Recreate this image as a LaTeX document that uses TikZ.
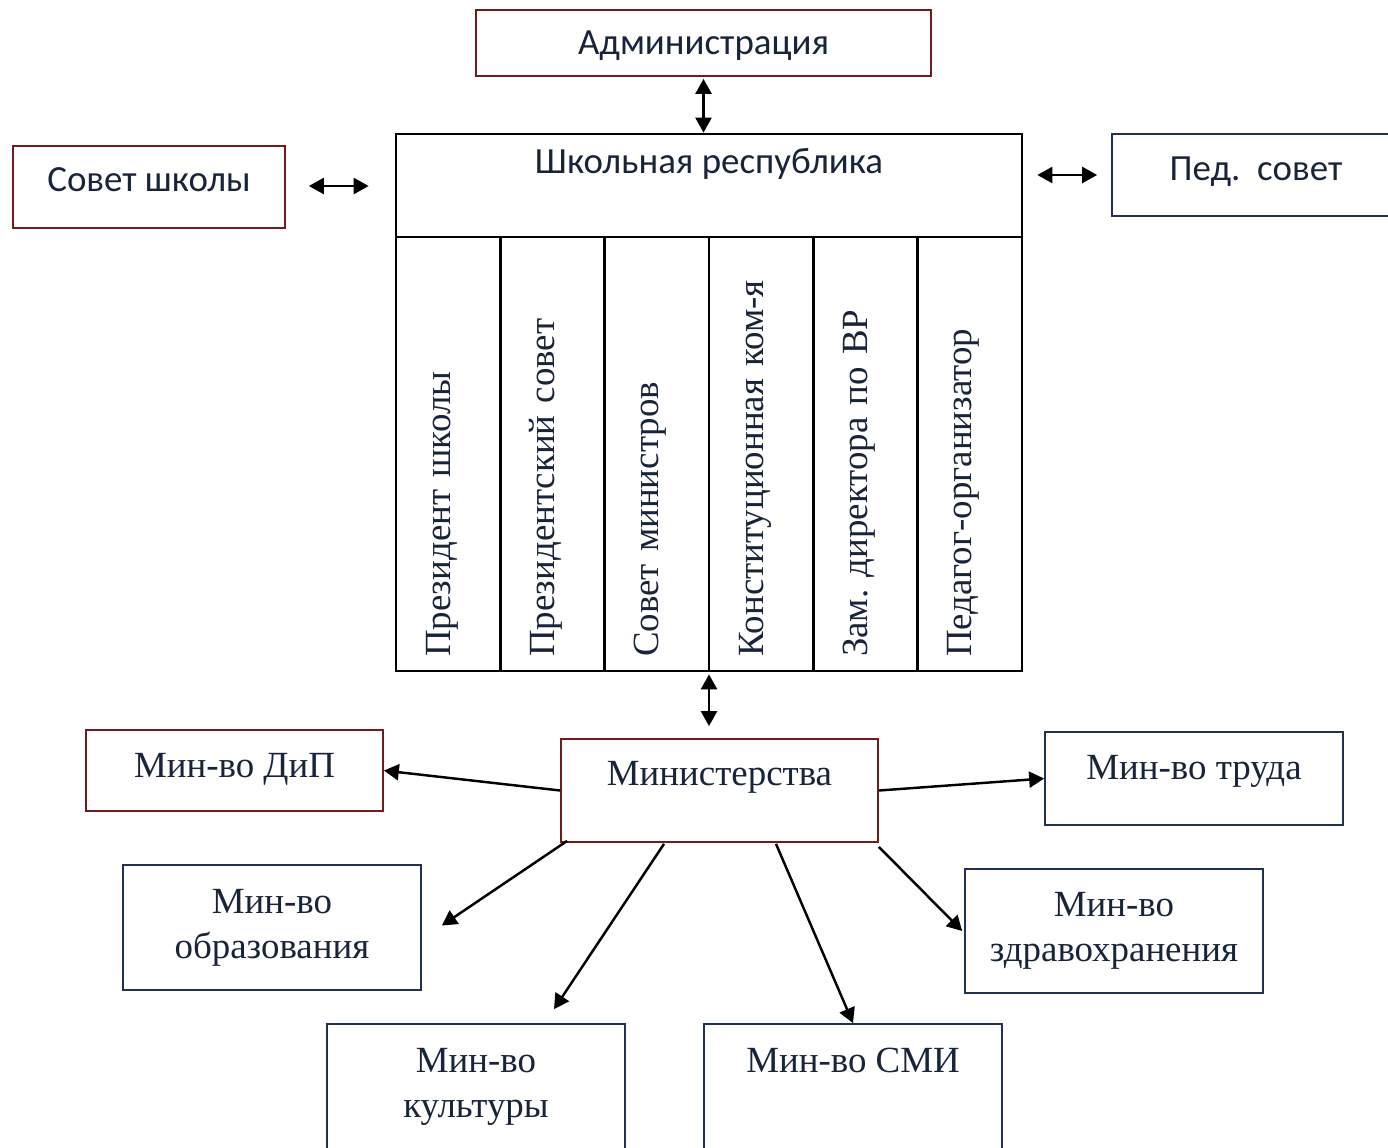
\documentclass[tikz,border=0pt]{standalone}
\usepackage{fontspec}
\setmainfont{Liberation Serif}
\newfontfamily\calfont{Carlito}
\usepackage{xcolor}
\usetikzlibrary{
arrows.meta,
calc,
positioning
}
\definecolor{boxred}{RGB}{112,28,28}
\definecolor{boxblue}{RGB}{31,50,79}
\definecolor{inkblue}{RGB}{24,36,58}
\tikzset{
  unit/.style={
    draw,
    rectangle,
    line width=1pt,
    inner sep=0pt,
    align=center,
    text=inkblue,
    font=\fontsize{21}{25.5}\selectfont
  },
  % Boxes set in the sans face:
  sansunit/.style={unit, font=\calfont\fontsize{21}{25}\selectfont}
}

\begin{document}
\frenchspacing
\begin{tikzpicture}[
    x=0.02cm, y=-0.02cm,
    redunit/.style={unit, draw=boxred},
    blueunit/.style={unit, draw=boxblue},
    frame/.style={
      sansunit,
      line width=1.6pt,
      draw=black
    },
    column/.style={
      unit,
      draw=black,
      line width=1.6pt,
      rotate=90,
      minimum width=8.68cm,
      minimum height=2.0867cm,
      text width=8.12cm,
      text height=0.52cm,
      text depth=0.435cm,
      inner xsep=0.28cm,
      align=left
    },
    relation/.style={
      line width=1.4pt,
      -{Triangle[length=0.3cm,width=0.32cm]}
    },
    twoway/.style={
      relation,
      {Triangle[length=0.3cm,width=0.32cm]}-{Triangle[length=0.3cm,width=0.32cm]}
    }
  ]
  \useasboundingbox (0,0) rectangle (1388,1147);
  \clip (0,0) rectangle (1388,1147);
  \node[sansunit,draw=boxred,minimum width=9.1cm,text height=0.88cm,text depth=0.44cm] (adm) at (703.5,43) {Администрация};
  \node[sansunit,draw=boxred,minimum width=5.44cm,text height=0.9cm,text depth=0.74cm] (sov) at (149,187) {Совет школы};
  \node[sansunit,draw=boxblue,minimum width=5.76cm,text height=0.92cm,text depth=0.72cm] (ped) at (1256,175) {Пед.~ совет};
  \node[frame,minimum width=12.52cm,text height=0.78cm,text depth=1.28cm] (hdr) at (709,185.5) {Школьная республика};
  \foreach \name [count=\i] in {Президент школы, Президентский совет, Совет министров, Конституционная ком-я, Зам. директора по ВР, Педагог-организатор}
    \node[column] (c\i) at ({396+104.33*(\i-0.5)},454) {\name};
  \node[redunit,minimum width=6.34cm,text height=0.92cm,text depth=1.14cm] (min) at (719.5,790.5) {Министерства};
  \node[redunit,minimum width=5.94cm,text height=0.94cm,text depth=0.68cm] (dip) at (234.5,770.5) {Мин-во ДиП};
  \node[blueunit,minimum width=5.96cm,text height=0.94cm,text depth=0.92cm] (trud) at (1194,778.5) {Мин-во труда};
  \node[blueunit,minimum width=5.96cm,minimum height=2.5cm] (obr) at (272,927.5) {Мин-во\\образования};
  \node[blueunit,minimum width=5.96cm,minimum height=2.48cm] (zdr) at (1114,931) {Мин-во\\здравохранения};
  \node[blueunit,minimum width=5.96cm,minimum height=2.52cm] (kult) at (476,1087) {Мин-во\\культуры};
  \node[blueunit,minimum width=5.96cm,text height=0.96cm,text depth=1.56cm] (smi) at (853,1087) {Мин-во СМИ};
  \draw[twoway] ($(adm.south)+(0,2)$) -- (adm.south |- hdr.north);
  \draw[twoway] ($(sov.east)+(23,-1)$) -- ($(hdr.west |- sov.east)+(-26,-1)$);
  \draw[twoway] ($(hdr.east |- ped.west)+(14,0)$) -- ($(ped.west)+(-14,0)$);
  \draw[twoway] ($(min.north |- c1.west)+(-10.5,2)$) -- ($(min.north)+(-10.5,-12)$);
  \draw[relation] (min.west) -- (dip.east);
  \draw[relation] (min.east) -- (trud.west);
  \draw[relation] ($(min.south west)+(7,-2)$) -- ($(obr.east)+(20,-2)$);
  \draw[relation] ($(min.south)+(-55.5,1)$) -- ($(kult.north)+(78,-14)$);
  \draw[relation] ($(min.south)+(56.5,1)$) -- (smi.north);
  \draw[relation] ($(min.south east)+(0,4)$) -- ($(zdr.west)+(-2,0)$);
\end{tikzpicture}
\end{document}
